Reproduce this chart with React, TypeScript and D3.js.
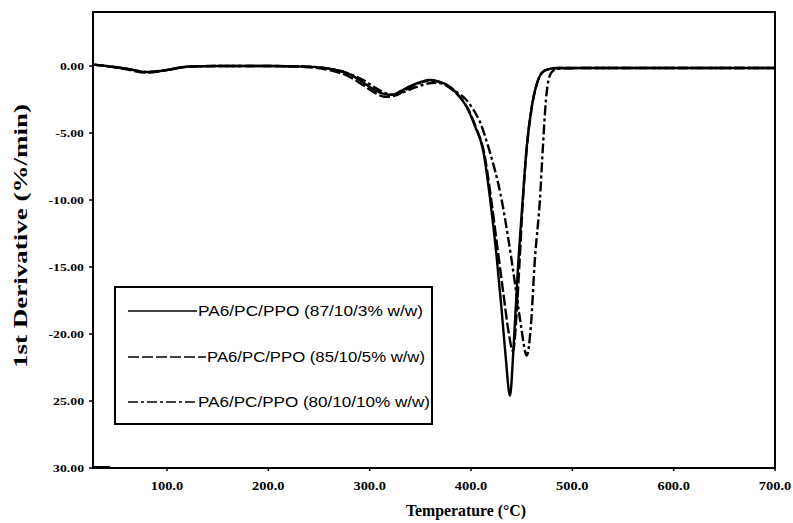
import * as d3 from "d3";

// temperatures (°C) and 1st derivative (%/min) for each blend
const solidT = [27, 40, 60, 80, 100, 120, 150, 200, 240, 260, 280, 295, 305, 315, 322, 330, 340, 350, 358, 368, 380, 390, 396, 404, 412, 419, 425, 430, 434, 438.5, 442, 446, 451, 455, 460, 465, 470, 476, 485, 520, 600, 700];
const solidV = [0.1, 0, -0.2, -0.45, -0.3, -0.05, 0, 0, -0.05, -0.2, -0.6, -1.3, -1.8, -2.1, -2.15, -1.9, -1.5, -1.2, -1.05, -1.15, -1.6, -2.4, -3.1, -4.5, -6.3, -10, -14, -18, -21.5, -24.6, -21, -15.5, -10, -6, -3, -1.3, -0.5, -0.25, -0.15, -0.15, -0.15, -0.15];

const dashT = [27, 40, 60, 80, 100, 120, 150, 200, 240, 260, 280, 295, 305, 315, 325, 335, 345, 355, 362, 372, 382, 391, 397, 405, 413, 420, 426, 432, 437, 441.5, 445, 448, 451, 455, 460, 465, 470, 476, 485, 520, 600, 700];
const dashV = [0.1, 0, -0.25, -0.5, -0.3, -0.05, 0, 0, -0.1, -0.3, -0.8, -1.5, -2.0, -2.3, -2.2, -1.8, -1.4, -1.15, -1.1, -1.3, -1.8, -2.5, -3.2, -4.6, -6.5, -10, -13.5, -17, -19.8, -21.3, -18.5, -14.5, -10.3, -6.2, -3.1, -1.35, -0.5, -0.25, -0.15, -0.15, -0.15, -0.15];

const dashDotT = [27, 40, 60, 80, 100, 120, 150, 200, 240, 260, 280, 295, 305, 315, 325, 335, 345, 355, 365, 375, 385, 395, 401, 409, 417, 423, 429, 436, 443, 449, 455, 459, 463, 468, 471, 474, 477, 481, 487, 520, 600, 700];
const dashDotV = [0.1, 0, -0.2, -0.45, -0.3, -0.05, 0, 0, -0.05, -0.2, -0.6, -1.1, -1.6, -2.0, -2.15, -1.9, -1.6, -1.35, -1.25, -1.4, -1.9, -2.5, -3.1, -4.2, -6.0, -7.6, -9.5, -12.5, -16, -19.2, -21.6, -19.5, -14.5, -10, -6, -2.5, -0.9, -0.35, -0.2, -0.15, -0.15, -0.15];

const seriesNames = [
  "PA6/PC/PPO (87/10/3% w/w)",
  "PA6/PC/PPO (85/10/5% w/w)",
  "PA6/PC/PPO (80/10/10% w/w)",
];

const xTicks = [100, 200, 300, 400, 500, 600, 700];
const xTickLabels = ["100.0", "200.0", "300.0", "400.0", "500.0", "600.0", "700.0"];
const yTicks = [0, -5, -10, -15, -20, -25, -30];
const yTickLabels = ["0.00", "-5.00", "-10.00", "-15.00", "-20.00", "25.00", "30.00"];

const W = 793;
const H = 523;
const left = 93, right = 775, top = 12, bottom = 468;

export default function App() {
  const x = d3.scaleLinear().domain([27, 700]).range([left, right]);
  const y = d3.scaleLinear().domain([-30, 4.03]).range([bottom, top]);

  const line = d3
    .line<[number, number]>()
    .x((d) => x(d[0]))
    .y((d) => y(d[1]))
    .curve(d3.curveMonotoneX);

  const series = [
    { pts: solidT.map((t, i) => [t, solidV[i]] as [number, number]), dash: "none" },
    { pts: dashT.map((t, i) => [t, dashV[i]] as [number, number]), dash: "11,3" },
    { pts: dashDotT.map((t, i) => [t, dashDotV[i]] as [number, number]), dash: "10,3,3,3" },
  ];

  const serif = "'Liberation Serif', 'Times New Roman', serif";
  const sans = "'Liberation Sans', Arial, sans-serif";

  // legend layout
  const lg = { x: 115, y: 287, w: 317, h: 137 };
  const rowY = [311, 357, 402];
  const lineEnd = [197, 206, 197];
  const textW = [225, 218, 232];

  return (
    <svg width={W} height={H} style={{ position: "absolute", left: 0, top: 0, background: "#fff" }}>
      {/* curves */}
      <g fill="none" stroke="#000" strokeWidth={2.4} strokeLinejoin="round">
        {series.map((s, i) => (
          <path key={i} d={line(s.pts) || ""} strokeDasharray={s.dash} />
        ))}
      </g>

      {/* frame */}
      <rect x={left} y={top} width={right - left} height={bottom - top} fill="none" stroke="#000" strokeWidth={2} />
      <line x1={left} x2={left + 17} y1={bottom - 1} y2={bottom - 1} stroke="#000" strokeWidth={2} />

      {/* y axis */}
      {yTicks.map((t, i) => (
        <g key={t}>
          <line x1={left - 4} x2={left} y1={y(t)} y2={y(t)} stroke="#000" strokeWidth={1.5} />
          <text
            x={84}
            y={y(t)}
            dy="0.35em"
            textAnchor="end"
            fontFamily={serif}
            fontWeight="bold"
            fontSize={11}
            transform={`translate(84,0) scale(1.25,1) translate(-84,0)`}
          >
            {yTickLabels[i]}
          </text>
        </g>
      ))}

      {/* x axis */}
      {xTicks.map((t, i) => (
        <g key={t}>
          <line x1={x(t)} x2={x(t)} y1={bottom} y2={bottom + 3} stroke="#000" strokeWidth={1.5} />
          <text
            x={x(t)}
            y={bottom + 22}
            textAnchor="middle"
            fontFamily={serif}
            fontWeight="bold"
            fontSize={12}
            transform={`translate(${x(t)},0) scale(1.2,1) translate(${-x(t)},0)`}
          >
            {xTickLabels[i]}
          </text>
        </g>
      ))}

      {/* axis titles */}
      <text
        x={466}
        y={516}
        textAnchor="middle"
        fontFamily={serif}
        fontSize={17}
        fontWeight="bold"
        textLength={120}
        lengthAdjust="spacingAndGlyphs"
      >
        Temperature (°C)
      </text>
      <text
        transform={`translate(27,236) rotate(-90)`}
        textAnchor="middle"
        fontFamily={serif}
        fontSize={19}
        fontWeight="bold"
        textLength={264}
        lengthAdjust="spacingAndGlyphs"
      >
        1st Derivative (%/min)
      </text>

      {/* legend */}
      <rect x={lg.x} y={lg.y} width={lg.w} height={lg.h} fill="#fff" stroke="#000" strokeWidth={2} />
      {seriesNames.map((name, i) => (
        <g key={name}>
          <line
            x1={128}
            x2={lineEnd[i]}
            y1={rowY[i]}
            y2={rowY[i]}
            stroke="#000"
            strokeWidth={1.6}
            strokeDasharray={series[i].dash}
          />
          <text
            x={lineEnd[i] + 1}
            y={rowY[i]}
            dy="0.35em"
            fontFamily={sans}
            fontSize={14}
            textLength={textW[i]}
            lengthAdjust="spacingAndGlyphs"
          >
            {name}
          </text>
        </g>
      ))}
    </svg>
  );
}
